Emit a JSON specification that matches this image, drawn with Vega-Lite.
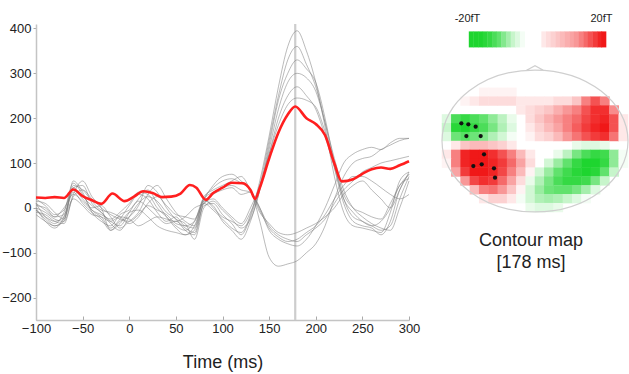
{
"$schema":"https://vega.github.io/schema/vega-lite/v6.json",
"background":"white",
"padding":{"left":1,"top":13,"right":2,"bottom":5},
"config":{"view":{"stroke":null},"font":"Liberation Sans","axis":{"grid":false}},
"bounds":"flush",
"spacing":25,
"datasets":{
"cursor":[{"t":178}],
"mean":[{"t":-100,"v":23},{"t":-90,"v":22},{"t":-80,"v":24},{"t":-70,"v":22},{"t":-60,"v":41},{"t":-50,"v":26},{"t":-40,"v":17},{"t":-30,"v":9},{"t":-18,"v":32},{"t":-5,"v":15},{"t":5,"v":25},{"t":15,"v":37},{"t":25,"v":33},{"t":35,"v":24},{"t":45,"v":25},{"t":55,"v":32},{"t":65,"v":51},{"t":72,"v":45},{"t":82,"v":18},{"t":90,"v":33},{"t":100,"v":45},{"t":110,"v":56},{"t":122,"v":55},{"t":130,"v":40},{"t":135,"v":20},{"t":140,"v":45},{"t":150,"v":110},{"t":160,"v":168},{"t":170,"v":208},{"t":178,"v":226},{"t":190,"v":200},{"t":200,"v":187},{"t":210,"v":162},{"t":220,"v":99},{"t":228,"v":59},{"t":240,"v":64},{"t":250,"v":76},{"t":260,"v":86},{"t":270,"v":90},{"t":280,"v":87},{"t":290,"v":95},{"t":300,"v":104}],
"sensors":[
{"s":1,"t":-100,"v":10},{"s":1,"t":-90,"v":-20},{"s":1,"t":-80,"v":-35},{"s":1,"t":-70,"v":-10},{"s":1,"t":-60,"v":55},{"s":1,"t":-50,"v":30},{"s":1,"t":-40,"v":-5},{"s":1,"t":-30,"v":-20},{"s":1,"t":-20,"v":-45},{"s":1,"t":-10,"v":-25},{"s":1,"t":0,"v":5},{"s":1,"t":10,"v":30},{"s":1,"t":20,"v":20},{"s":1,"t":30,"v":-10},{"s":1,"t":40,"v":-30},{"s":1,"t":50,"v":-20},{"s":1,"t":60,"v":-40},{"s":1,"t":70,"v":-30},{"s":1,"t":80,"v":10},{"s":1,"t":90,"v":-5},{"s":1,"t":100,"v":-25},{"s":1,"t":110,"v":-45},{"s":1,"t":120,"v":-55},{"s":1,"t":130,"v":-15},{"s":1,"t":140,"v":60},{"s":1,"t":150,"v":160},{"s":1,"t":160,"v":270},{"s":1,"t":170,"v":360},{"s":1,"t":180,"v":395},{"s":1,"t":190,"v":350},{"s":1,"t":200,"v":280},{"s":1,"t":210,"v":180},{"s":1,"t":220,"v":70},{"s":1,"t":230,"v":-10},{"s":1,"t":240,"v":-40},{"s":1,"t":250,"v":-45},{"s":1,"t":260,"v":-50},{"s":1,"t":270,"v":-55},{"s":1,"t":280,"v":-10},{"s":1,"t":290,"v":60},{"s":1,"t":300,"v":80},
{"s":2,"t":-100,"v":0},{"s":2,"t":-90,"v":-30},{"s":2,"t":-80,"v":-45},{"s":2,"t":-70,"v":-20},{"s":2,"t":-60,"v":45},{"s":2,"t":-50,"v":50},{"s":2,"t":-40,"v":10},{"s":2,"t":-30,"v":-10},{"s":2,"t":-20,"v":-30},{"s":2,"t":-10,"v":-40},{"s":2,"t":0,"v":-10},{"s":2,"t":10,"v":20},{"s":2,"t":20,"v":40},{"s":2,"t":30,"v":10},{"s":2,"t":40,"v":-20},{"s":2,"t":50,"v":-45},{"s":2,"t":60,"v":-60},{"s":2,"t":70,"v":-50},{"s":2,"t":80,"v":5},{"s":2,"t":90,"v":10},{"s":2,"t":100,"v":-15},{"s":2,"t":110,"v":-35},{"s":2,"t":120,"v":-60},{"s":2,"t":130,"v":-20},{"s":2,"t":140,"v":50},{"s":2,"t":150,"v":150},{"s":2,"t":160,"v":250},{"s":2,"t":170,"v":330},{"s":2,"t":180,"v":360},{"s":2,"t":190,"v":320},{"s":2,"t":200,"v":270},{"s":2,"t":210,"v":190},{"s":2,"t":220,"v":90},{"s":2,"t":230,"v":10},{"s":2,"t":240,"v":-30},{"s":2,"t":250,"v":-40},{"s":2,"t":260,"v":-45},{"s":2,"t":270,"v":-60},{"s":2,"t":280,"v":-30},{"s":2,"t":290,"v":40},{"s":2,"t":300,"v":75},
{"s":3,"t":-100,"v":-10},{"s":3,"t":-90,"v":-15},{"s":3,"t":-80,"v":-30},{"s":3,"t":-70,"v":-35},{"s":3,"t":-60,"v":30},{"s":3,"t":-50,"v":60},{"s":3,"t":-40,"v":25},{"s":3,"t":-30,"v":0},{"s":3,"t":-20,"v":-50},{"s":3,"t":-10,"v":-30},{"s":3,"t":0,"v":-20},{"s":3,"t":10,"v":5},{"s":3,"t":20,"v":50},{"s":3,"t":30,"v":35},{"s":3,"t":40,"v":0},{"s":3,"t":50,"v":-25},{"s":3,"t":60,"v":-35},{"s":3,"t":70,"v":-70},{"s":3,"t":80,"v":0},{"s":3,"t":90,"v":15},{"s":3,"t":100,"v":-5},{"s":3,"t":110,"v":-25},{"s":3,"t":120,"v":-45},{"s":3,"t":130,"v":-25},{"s":3,"t":140,"v":40},{"s":3,"t":150,"v":140},{"s":3,"t":160,"v":240},{"s":3,"t":170,"v":300},{"s":3,"t":180,"v":330},{"s":3,"t":190,"v":310},{"s":3,"t":200,"v":280},{"s":3,"t":210,"v":200},{"s":3,"t":220,"v":100},{"s":3,"t":230,"v":20},{"s":3,"t":240,"v":-20},{"s":3,"t":250,"v":-30},{"s":3,"t":260,"v":-40},{"s":3,"t":270,"v":-50},{"s":3,"t":280,"v":-40},{"s":3,"t":290,"v":20},{"s":3,"t":300,"v":70},
{"s":4,"t":-100,"v":5},{"s":4,"t":-90,"v":0},{"s":4,"t":-80,"v":-20},{"s":4,"t":-70,"v":-15},{"s":4,"t":-60,"v":40},{"s":4,"t":-50,"v":20},{"s":4,"t":-40,"v":0},{"s":4,"t":-30,"v":5},{"s":4,"t":-20,"v":-20},{"s":4,"t":-10,"v":-45},{"s":4,"t":0,"v":-30},{"s":4,"t":10,"v":-10},{"s":4,"t":20,"v":30},{"s":4,"t":30,"v":50},{"s":4,"t":40,"v":20},{"s":4,"t":50,"v":-10},{"s":4,"t":60,"v":-30},{"s":4,"t":70,"v":-40},{"s":4,"t":80,"v":15},{"s":4,"t":90,"v":5},{"s":4,"t":100,"v":-30},{"s":4,"t":110,"v":-50},{"s":4,"t":120,"v":-70},{"s":4,"t":130,"v":-30},{"s":4,"t":140,"v":40},{"s":4,"t":150,"v":130},{"s":4,"t":160,"v":220},{"s":4,"t":170,"v":280},{"s":4,"t":180,"v":300},{"s":4,"t":190,"v":290},{"s":4,"t":200,"v":260},{"s":4,"t":210,"v":190},{"s":4,"t":220,"v":110},{"s":4,"t":230,"v":40},{"s":4,"t":240,"v":0},{"s":4,"t":250,"v":-20},{"s":4,"t":260,"v":-35},{"s":4,"t":270,"v":-45},{"s":4,"t":280,"v":-50},{"s":4,"t":290,"v":0},{"s":4,"t":300,"v":60},
{"s":5,"t":-100,"v":15},{"s":5,"t":-90,"v":10},{"s":5,"t":-80,"v":-10},{"s":5,"t":-70,"v":-25},{"s":5,"t":-60,"v":50},{"s":5,"t":-50,"v":40},{"s":5,"t":-40,"v":15},{"s":5,"t":-30,"v":-5},{"s":5,"t":-20,"v":-10},{"s":5,"t":-10,"v":-20},{"s":5,"t":0,"v":-35},{"s":5,"t":10,"v":-20},{"s":5,"t":20,"v":10},{"s":5,"t":30,"v":25},{"s":5,"t":40,"v":5},{"s":5,"t":50,"v":-15},{"s":5,"t":60,"v":-20},{"s":5,"t":70,"v":-25},{"s":5,"t":80,"v":20},{"s":5,"t":90,"v":0},{"s":5,"t":100,"v":-20},{"s":5,"t":110,"v":-30},{"s":5,"t":120,"v":-40},{"s":5,"t":130,"v":-10},{"s":5,"t":140,"v":45},{"s":5,"t":150,"v":120},{"s":5,"t":160,"v":200},{"s":5,"t":170,"v":250},{"s":5,"t":180,"v":270},{"s":5,"t":190,"v":250},{"s":5,"t":200,"v":220},{"s":5,"t":210,"v":160},{"s":5,"t":220,"v":90},{"s":5,"t":230,"v":20},{"s":5,"t":240,"v":-10},{"s":5,"t":250,"v":-30},{"s":5,"t":260,"v":-40},{"s":5,"t":270,"v":-30},{"s":5,"t":280,"v":0},{"s":5,"t":290,"v":50},{"s":5,"t":300,"v":65},
{"s":6,"t":-100,"v":-5},{"s":6,"t":-90,"v":-25},{"s":6,"t":-80,"v":-40},{"s":6,"t":-70,"v":-30},{"s":6,"t":-60,"v":60},{"s":6,"t":-50,"v":35},{"s":6,"t":-40,"v":-10},{"s":6,"t":-30,"v":-30},{"s":6,"t":-20,"v":-40},{"s":6,"t":-10,"v":-15},{"s":6,"t":0,"v":-5},{"s":6,"t":10,"v":15},{"s":6,"t":20,"v":0},{"s":6,"t":30,"v":-20},{"s":6,"t":40,"v":-35},{"s":6,"t":50,"v":-30},{"s":6,"t":60,"v":-45},{"s":6,"t":70,"v":-55},{"s":6,"t":80,"v":10},{"s":6,"t":90,"v":20},{"s":6,"t":100,"v":0},{"s":6,"t":110,"v":-20},{"s":6,"t":120,"v":-35},{"s":6,"t":130,"v":0},{"s":6,"t":140,"v":50},{"s":6,"t":150,"v":120},{"s":6,"t":160,"v":185},{"s":6,"t":170,"v":230},{"s":6,"t":180,"v":245},{"s":6,"t":190,"v":240},{"s":6,"t":200,"v":225},{"s":6,"t":210,"v":170},{"s":6,"t":220,"v":100},{"s":6,"t":230,"v":30},{"s":6,"t":240,"v":0},{"s":6,"t":250,"v":-10},{"s":6,"t":260,"v":-20},{"s":6,"t":270,"v":-25},{"s":6,"t":280,"v":10},{"s":6,"t":290,"v":50},{"s":6,"t":300,"v":75},
{"s":7,"t":-100,"v":-5},{"s":7,"t":-90,"v":-20},{"s":7,"t":-80,"v":-30},{"s":7,"t":-70,"v":-20},{"s":7,"t":-60,"v":35},{"s":7,"t":-50,"v":10},{"s":7,"t":-40,"v":-10},{"s":7,"t":-30,"v":-25},{"s":7,"t":-20,"v":-50},{"s":7,"t":-10,"v":-35},{"s":7,"t":0,"v":-10},{"s":7,"t":10,"v":-5},{"s":7,"t":20,"v":-20},{"s":7,"t":30,"v":-40},{"s":7,"t":40,"v":-50},{"s":7,"t":50,"v":-55},{"s":7,"t":60,"v":-60},{"s":7,"t":70,"v":-40},{"s":7,"t":80,"v":20},{"s":7,"t":90,"v":45},{"s":7,"t":100,"v":60},{"s":7,"t":110,"v":65},{"s":7,"t":120,"v":55},{"s":7,"t":130,"v":40},{"s":7,"t":140,"v":-30},{"s":7,"t":150,"v":-110},{"s":7,"t":160,"v":-130},{"s":7,"t":170,"v":-125},{"s":7,"t":180,"v":-118},{"s":7,"t":190,"v":-100},{"s":7,"t":200,"v":-80},{"s":7,"t":210,"v":-40},{"s":7,"t":220,"v":20},{"s":7,"t":230,"v":70},{"s":7,"t":240,"v":100},{"s":7,"t":250,"v":110},{"s":7,"t":260,"v":115},{"s":7,"t":270,"v":130},{"s":7,"t":280,"v":140},{"s":7,"t":290,"v":150},{"s":7,"t":300,"v":155},
{"s":8,"t":-100,"v":20},{"s":8,"t":-90,"v":5},{"s":8,"t":-80,"v":-15},{"s":8,"t":-70,"v":-5},{"s":8,"t":-60,"v":45},{"s":8,"t":-50,"v":25},{"s":8,"t":-40,"v":5},{"s":8,"t":-30,"v":-10},{"s":8,"t":-20,"v":-35},{"s":8,"t":-10,"v":-50},{"s":8,"t":0,"v":-20},{"s":8,"t":10,"v":10},{"s":8,"t":20,"v":25},{"s":8,"t":30,"v":15},{"s":8,"t":40,"v":-10},{"s":8,"t":50,"v":-25},{"s":8,"t":60,"v":-50},{"s":8,"t":70,"v":-60},{"s":8,"t":80,"v":15},{"s":8,"t":90,"v":50},{"s":8,"t":100,"v":70},{"s":8,"t":110,"v":75},{"s":8,"t":120,"v":60},{"s":8,"t":130,"v":40},{"s":8,"t":140,"v":0},{"s":8,"t":150,"v":-50},{"s":8,"t":160,"v":-70},{"s":8,"t":170,"v":-80},{"s":8,"t":180,"v":-85},{"s":8,"t":190,"v":-70},{"s":8,"t":200,"v":-40},{"s":8,"t":210,"v":0},{"s":8,"t":220,"v":50},{"s":8,"t":230,"v":100},{"s":8,"t":240,"v":120},{"s":8,"t":250,"v":130},{"s":8,"t":260,"v":135},{"s":8,"t":270,"v":130},{"s":8,"t":280,"v":145},{"s":8,"t":290,"v":155},{"s":8,"t":300,"v":155},
{"s":9,"t":-100,"v":0},{"s":9,"t":-90,"v":-10},{"s":9,"t":-80,"v":-25},{"s":9,"t":-70,"v":-30},{"s":9,"t":-60,"v":25},{"s":9,"t":-50,"v":40},{"s":9,"t":-40,"v":20},{"s":9,"t":-30,"v":0},{"s":9,"t":-20,"v":-15},{"s":9,"t":-10,"v":-25},{"s":9,"t":0,"v":-30},{"s":9,"t":10,"v":-15},{"s":9,"t":20,"v":5},{"s":9,"t":30,"v":-5},{"s":9,"t":40,"v":-15},{"s":9,"t":50,"v":-35},{"s":9,"t":60,"v":-40},{"s":9,"t":70,"v":-45},{"s":9,"t":80,"v":25},{"s":9,"t":90,"v":40},{"s":9,"t":100,"v":50},{"s":9,"t":110,"v":60},{"s":9,"t":120,"v":70},{"s":9,"t":130,"v":40},{"s":9,"t":140,"v":0},{"s":9,"t":150,"v":-40},{"s":9,"t":160,"v":-60},{"s":9,"t":170,"v":-70},{"s":9,"t":180,"v":-75},{"s":9,"t":190,"v":-60},{"s":9,"t":200,"v":-45},{"s":9,"t":210,"v":-25},{"s":9,"t":220,"v":10},{"s":9,"t":230,"v":40},{"s":9,"t":240,"v":60},{"s":9,"t":250,"v":80},{"s":9,"t":260,"v":90},{"s":9,"t":270,"v":100},{"s":9,"t":280,"v":105},{"s":9,"t":290,"v":110},{"s":9,"t":300,"v":115},
{"s":10,"t":-100,"v":10},{"s":10,"t":-90,"v":-5},{"s":10,"t":-80,"v":-20},{"s":10,"t":-70,"v":0},{"s":10,"t":-60,"v":30},{"s":10,"t":-50,"v":15},{"s":10,"t":-40,"v":-5},{"s":10,"t":-30,"v":-15},{"s":10,"t":-20,"v":-25},{"s":10,"t":-10,"v":-10},{"s":10,"t":0,"v":10},{"s":10,"t":10,"v":35},{"s":10,"t":20,"v":30},{"s":10,"t":30,"v":0},{"s":10,"t":40,"v":-20},{"s":10,"t":50,"v":-40},{"s":10,"t":60,"v":-50},{"s":10,"t":70,"v":-30},{"s":10,"t":80,"v":20},{"s":10,"t":90,"v":35},{"s":10,"t":100,"v":45},{"s":10,"t":110,"v":50},{"s":10,"t":120,"v":40},{"s":10,"t":130,"v":35},{"s":10,"t":140,"v":-10},{"s":10,"t":150,"v":-35},{"s":10,"t":160,"v":-55},{"s":10,"t":170,"v":-60},{"s":10,"t":180,"v":-55},{"s":10,"t":190,"v":-45},{"s":10,"t":200,"v":-35},{"s":10,"t":210,"v":-20},{"s":10,"t":220,"v":0},{"s":10,"t":230,"v":30},{"s":10,"t":240,"v":50},{"s":10,"t":250,"v":60},{"s":10,"t":260,"v":40},{"s":10,"t":270,"v":20},{"s":10,"t":280,"v":0},{"s":10,"t":290,"v":40},{"s":10,"t":300,"v":80},
{"s":11,"t":-100,"v":-15},{"s":11,"t":-90,"v":-30},{"s":11,"t":-80,"v":-40},{"s":11,"t":-70,"v":-25},{"s":11,"t":-60,"v":20},{"s":11,"t":-50,"v":5},{"s":11,"t":-40,"v":-15},{"s":11,"t":-30,"v":-20},{"s":11,"t":-20,"v":-30},{"s":11,"t":-10,"v":-20},{"s":11,"t":0,"v":-25},{"s":11,"t":10,"v":-40},{"s":11,"t":20,"v":-30},{"s":11,"t":30,"v":-20},{"s":11,"t":40,"v":-25},{"s":11,"t":50,"v":-30},{"s":11,"t":60,"v":-20},{"s":11,"t":70,"v":0},{"s":11,"t":80,"v":10},{"s":11,"t":90,"v":30},{"s":11,"t":100,"v":40},{"s":11,"t":110,"v":45},{"s":11,"t":120,"v":30},{"s":11,"t":130,"v":35},{"s":11,"t":140,"v":-5},{"s":11,"t":150,"v":-45},{"s":11,"t":160,"v":-65},{"s":11,"t":170,"v":-75},{"s":11,"t":180,"v":-70},{"s":11,"t":190,"v":-55},{"s":11,"t":200,"v":-40},{"s":11,"t":210,"v":-15},{"s":11,"t":220,"v":20},{"s":11,"t":230,"v":50},{"s":11,"t":240,"v":70},{"s":11,"t":250,"v":70},{"s":11,"t":260,"v":60},{"s":11,"t":270,"v":45},{"s":11,"t":280,"v":30},{"s":11,"t":290,"v":20},{"s":11,"t":300,"v":30}
],
"field":[
{"X":-0.55,"Y":0.6875,"v":1},{"X":-0.45,"Y":0.6875,"v":1},{"X":-0.35,"Y":0.6875,"v":1},{"X":-0.25,"Y":0.6875,"v":1},
{"X":-0.75,"Y":0.5625,"v":1},{"X":-0.65,"Y":0.5625,"v":2},{"X":-0.55,"Y":0.5625,"v":3},{"X":-0.45,"Y":0.5625,"v":3},{"X":-0.35,"Y":0.5625,"v":3},{"X":-0.25,"Y":0.5625,"v":3},{"X":-0.15,"Y":0.5625,"v":2},{"X":-0.05,"Y":0.5625,"v":2},{"X":0.05,"Y":0.5625,"v":2},{"X":0.15,"Y":0.5625,"v":2},{"X":0.25,"Y":0.5625,"v":3},{"X":0.35,"Y":0.5625,"v":3},{"X":0.45,"Y":0.5625,"v":5},{"X":0.55,"Y":0.5625,"v":11},{"X":0.65,"Y":0.5625,"v":15},{"X":0.75,"Y":0.5625,"v":11},
{"X":-0.15,"Y":0.4375,"v":2},{"X":-0.05,"Y":0.4375,"v":3},{"X":0.05,"Y":0.4375,"v":4},{"X":0.15,"Y":0.4375,"v":5},{"X":0.25,"Y":0.4375,"v":7},{"X":0.35,"Y":0.4375,"v":9},{"X":0.45,"Y":0.4375,"v":11},{"X":0.55,"Y":0.4375,"v":15},{"X":0.65,"Y":0.4375,"v":18},{"X":0.75,"Y":0.4375,"v":18},{"X":0.85,"Y":0.4375,"v":10},
{"X":-0.95,"Y":0.3125,"v":-3},{"X":-0.85,"Y":0.3125,"v":-16},{"X":-0.75,"Y":0.3125,"v":-18},{"X":-0.65,"Y":0.3125,"v":-16},{"X":-0.55,"Y":0.3125,"v":-14},{"X":-0.45,"Y":0.3125,"v":-10},{"X":-0.35,"Y":0.3125,"v":-6},{"X":-0.25,"Y":0.3125,"v":-2},{"X":-0.05,"Y":0.3125,"v":3},{"X":0.05,"Y":0.3125,"v":5},{"X":0.15,"Y":0.3125,"v":7},{"X":0.25,"Y":0.3125,"v":9},{"X":0.35,"Y":0.3125,"v":11},{"X":0.45,"Y":0.3125,"v":13},{"X":0.55,"Y":0.3125,"v":16},{"X":0.65,"Y":0.3125,"v":18},{"X":0.75,"Y":0.3125,"v":19},{"X":0.85,"Y":0.3125,"v":15},{"X":0.95,"Y":0.3125,"v":2},
{"X":-0.95,"Y":0.1875,"v":-5},{"X":-0.85,"Y":0.1875,"v":-19},{"X":-0.75,"Y":0.1875,"v":-20},{"X":-0.65,"Y":0.1875,"v":-18},{"X":-0.55,"Y":0.1875,"v":-16},{"X":-0.45,"Y":0.1875,"v":-12},{"X":-0.35,"Y":0.1875,"v":-7},{"X":-0.25,"Y":0.1875,"v":-3},{"X":-0.05,"Y":0.1875,"v":2},{"X":0.05,"Y":0.1875,"v":4},{"X":0.15,"Y":0.1875,"v":6},{"X":0.25,"Y":0.1875,"v":8},{"X":0.35,"Y":0.1875,"v":11},{"X":0.45,"Y":0.1875,"v":14},{"X":0.55,"Y":0.1875,"v":17},{"X":0.65,"Y":0.1875,"v":19},{"X":0.75,"Y":0.1875,"v":20},{"X":0.85,"Y":0.1875,"v":15},{"X":0.95,"Y":0.1875,"v":2},
{"X":-0.95,"Y":0.0625,"v":-3},{"X":-0.85,"Y":0.0625,"v":-13},{"X":-0.75,"Y":0.0625,"v":-15},{"X":-0.65,"Y":0.0625,"v":-13},{"X":-0.55,"Y":0.0625,"v":-11},{"X":-0.45,"Y":0.0625,"v":-7},{"X":-0.35,"Y":0.0625,"v":-4},{"X":-0.25,"Y":0.0625,"v":-1},{"X":-0.05,"Y":0.0625,"v":1},{"X":0.05,"Y":0.0625,"v":3},{"X":0.15,"Y":0.0625,"v":4},{"X":0.25,"Y":0.0625,"v":6},{"X":0.35,"Y":0.0625,"v":9},{"X":0.45,"Y":0.0625,"v":12},{"X":0.55,"Y":0.0625,"v":15},{"X":0.65,"Y":0.0625,"v":17},{"X":0.75,"Y":0.0625,"v":18},{"X":0.85,"Y":0.0625,"v":12},{"X":0.95,"Y":0.0625,"v":2},
{"X":-0.85,"Y":-0.0625,"v":2},{"X":-0.75,"Y":-0.0625,"v":5},{"X":-0.65,"Y":-0.0625,"v":6},{"X":-0.55,"Y":-0.0625,"v":6},{"X":-0.45,"Y":-0.0625,"v":5},{"X":-0.35,"Y":-0.0625,"v":4},{"X":-0.25,"Y":-0.0625,"v":2},{"X":0.45,"Y":-0.0625,"v":-2},{"X":0.55,"Y":-0.0625,"v":-3},{"X":0.65,"Y":-0.0625,"v":-3},{"X":0.75,"Y":-0.0625,"v":-2},
{"X":-0.95,"Y":-0.1875,"v":2},{"X":-0.85,"Y":-0.1875,"v":11},{"X":-0.75,"Y":-0.1875,"v":19},{"X":-0.65,"Y":-0.1875,"v":20},{"X":-0.55,"Y":-0.1875,"v":20},{"X":-0.45,"Y":-0.1875,"v":18},{"X":-0.35,"Y":-0.1875,"v":15},{"X":-0.25,"Y":-0.1875,"v":11},{"X":-0.15,"Y":-0.1875,"v":6},{"X":-0.05,"Y":-0.1875,"v":2},{"X":0.25,"Y":-0.1875,"v":-2},{"X":0.35,"Y":-0.1875,"v":-6},{"X":0.45,"Y":-0.1875,"v":-12},{"X":0.55,"Y":-0.1875,"v":-16},{"X":0.65,"Y":-0.1875,"v":-18},{"X":0.75,"Y":-0.1875,"v":-17},{"X":0.85,"Y":-0.1875,"v":-10},{"X":0.95,"Y":-0.1875,"v":-1},
{"X":-0.95,"Y":-0.3125,"v":1},{"X":-0.85,"Y":-0.3125,"v":11},{"X":-0.75,"Y":-0.3125,"v":19},{"X":-0.65,"Y":-0.3125,"v":20},{"X":-0.55,"Y":-0.3125,"v":20},{"X":-0.45,"Y":-0.3125,"v":19},{"X":-0.35,"Y":-0.3125,"v":17},{"X":-0.25,"Y":-0.3125,"v":13},{"X":-0.15,"Y":-0.3125,"v":8},{"X":-0.05,"Y":-0.3125,"v":3},{"X":0.15,"Y":-0.3125,"v":-4},{"X":0.25,"Y":-0.3125,"v":-9},{"X":0.35,"Y":-0.3125,"v":-14},{"X":0.45,"Y":-0.3125,"v":-18},{"X":0.55,"Y":-0.3125,"v":-20},{"X":0.65,"Y":-0.3125,"v":-20},{"X":0.75,"Y":-0.3125,"v":-18},{"X":0.85,"Y":-0.3125,"v":-10},{"X":0.95,"Y":-0.3125,"v":-1},
{"X":-0.85,"Y":-0.4375,"v":8},{"X":-0.75,"Y":-0.4375,"v":17},{"X":-0.65,"Y":-0.4375,"v":20},{"X":-0.55,"Y":-0.4375,"v":20},{"X":-0.45,"Y":-0.4375,"v":19},{"X":-0.35,"Y":-0.4375,"v":16},{"X":-0.25,"Y":-0.4375,"v":11},{"X":-0.15,"Y":-0.4375,"v":6},{"X":-0.05,"Y":-0.4375,"v":1},{"X":0.05,"Y":-0.4375,"v":-4},{"X":0.15,"Y":-0.4375,"v":-9},{"X":0.25,"Y":-0.4375,"v":-14},{"X":0.35,"Y":-0.4375,"v":-17},{"X":0.45,"Y":-0.4375,"v":-19},{"X":0.55,"Y":-0.4375,"v":-20},{"X":0.65,"Y":-0.4375,"v":-19},{"X":0.75,"Y":-0.4375,"v":-14},{"X":0.85,"Y":-0.4375,"v":-5},
{"X":-0.75,"Y":-0.5625,"v":9},{"X":-0.65,"Y":-0.5625,"v":16},{"X":-0.55,"Y":-0.5625,"v":18},{"X":-0.45,"Y":-0.5625,"v":17},{"X":-0.35,"Y":-0.5625,"v":13},{"X":-0.25,"Y":-0.5625,"v":8},{"X":-0.15,"Y":-0.5625,"v":3},{"X":-0.05,"Y":-0.5625,"v":-2},{"X":0.05,"Y":-0.5625,"v":-7},{"X":0.15,"Y":-0.5625,"v":-12},{"X":0.25,"Y":-0.5625,"v":-16},{"X":0.35,"Y":-0.5625,"v":-18},{"X":0.45,"Y":-0.5625,"v":-18},{"X":0.55,"Y":-0.5625,"v":-17},{"X":0.65,"Y":-0.5625,"v":-12},{"X":0.75,"Y":-0.5625,"v":-5},
{"X":-0.65,"Y":-0.6875,"v":6},{"X":-0.55,"Y":-0.6875,"v":11},{"X":-0.45,"Y":-0.6875,"v":12},{"X":-0.35,"Y":-0.6875,"v":9},{"X":-0.25,"Y":-0.6875,"v":5},{"X":-0.15,"Y":-0.6875,"v":1},{"X":-0.05,"Y":-0.6875,"v":-4},{"X":0.05,"Y":-0.6875,"v":-9},{"X":0.15,"Y":-0.6875,"v":-13},{"X":0.25,"Y":-0.6875,"v":-14},{"X":0.35,"Y":-0.6875,"v":-14},{"X":0.45,"Y":-0.6875,"v":-12},{"X":0.55,"Y":-0.6875,"v":-8},{"X":0.65,"Y":-0.6875,"v":-3},
{"X":-0.55,"Y":-0.8125,"v":2},{"X":-0.45,"Y":-0.8125,"v":4},{"X":-0.35,"Y":-0.8125,"v":4},{"X":-0.25,"Y":-0.8125,"v":2},{"X":-0.15,"Y":-0.8125,"v":-1},{"X":-0.05,"Y":-0.8125,"v":-4},{"X":0.05,"Y":-0.8125,"v":-7},{"X":0.15,"Y":-0.8125,"v":-8},{"X":0.25,"Y":-0.8125,"v":-7},{"X":0.35,"Y":-0.8125,"v":-5},{"X":0.45,"Y":-0.8125,"v":-3},{"X":0.55,"Y":-0.8125,"v":-1},
{"X":-0.05,"Y":-0.9375,"v":-2},{"X":0.05,"Y":-0.9375,"v":-3},{"X":0.15,"Y":-0.9375,"v":-3},{"X":0.25,"Y":-0.9375,"v":-2}
],
"scalebar":[
{"X":-0.685,"Y":1.431,"v":-20},{"X":-0.635,"Y":1.431,"v":-20},{"X":-0.585,"Y":1.431,"v":-20},{"X":-0.535,"Y":1.431,"v":-19},{"X":-0.485,"Y":1.431,"v":-18},{"X":-0.435,"Y":1.431,"v":-16},{"X":-0.385,"Y":1.431,"v":-14},{"X":-0.335,"Y":1.431,"v":-11},{"X":-0.285,"Y":1.431,"v":-8},{"X":-0.235,"Y":1.431,"v":-5},{"X":-0.185,"Y":1.431,"v":-3},{"X":-0.135,"Y":1.431,"v":-1},
{"X":0.095,"Y":1.431,"v":2},{"X":0.145,"Y":1.431,"v":3},{"X":0.195,"Y":1.431,"v":4},{"X":0.245,"Y":1.431,"v":5},{"X":0.295,"Y":1.431,"v":6},{"X":0.345,"Y":1.431,"v":7},{"X":0.395,"Y":1.431,"v":8},{"X":0.445,"Y":1.431,"v":9},{"X":0.495,"Y":1.431,"v":11},{"X":0.545,"Y":1.431,"v":13},{"X":0.595,"Y":1.431,"v":15},{"X":0.645,"Y":1.431,"v":17},{"X":0.695,"Y":1.431,"v":19},{"X":0.74,"Y":1.431,"v":20}
],
"scalelabels":[{"X":-0.726,"Y":1.718,"label":"-20fT"},{"X":0.715,"Y":1.718,"label":"20fT"}],
"head":[{"X":0,"Y":0}],
"dots":[{"X":-0.792,"Y":0.249},{"X":-0.717,"Y":0.235},{"X":-0.638,"Y":0.202},{"X":-0.738,"Y":0.07},{"X":-0.584,"Y":0.07},{"X":-0.548,"Y":-0.188},{"X":-0.573,"Y":-0.329},{"X":-0.663,"Y":-0.352},{"X":-0.441,"Y":-0.385},{"X":-0.43,"Y":-0.516}]
},
"hconcat":[
{
"width":373,"height":296,
"encoding":{
"x":{"field":"t","type":"quantitative","scale":{"domain":[-100,300],"nice":false,"zero":false},"axis":{"title":"Time (ms)","values":[-100,-50,0,50,100,150,200,250,300],"labelFlush":false,"domainColor":"#c4c4c4","domainWidth":1.5,"tickColor":"#aaaaaa","tickSize":-4,"labelPadding":6,"labelFontSize":13,"labelColor":"#222222","titleFontSize":18,"titleFontWeight":"normal","titleColor":"#222222","titlePadding":18}}
},
"layer":[
{"data":{"name":"cursor"},"mark":{"type":"rule","color":"#cdcdcd","strokeWidth":2.2},"encoding":{}},
{"data":{"name":"sensors"},"mark":{"type":"line","interpolate":"monotone","color":"#7a7a7a","strokeWidth":0.8,"opacity":0.65},
 "encoding":{"y":{"field":"v","type":"quantitative","scale":{"domain":[-250,410],"nice":false,"zero":false},"axis":{"title":null,"values":[-200,-100,0,100,200,300,400],"domainColor":"#c4c4c4","domainWidth":1.5,"tickColor":"#aaaaaa","tickSize":3,"labelPadding":2,"labelFontSize":13,"labelColor":"#222222"}},"detail":{"field":"s","type":"nominal"}}},
{"data":{"name":"mean"},"mark":{"type":"line","interpolate":"monotone","color":"#ff1f1f","strokeWidth":2.6},
 "encoding":{"y":{"field":"v","type":"quantitative"}}}
]
},
{
"width":194,"height":191,
"title":{"text":["Contour map","[178 ms]"],"orient":"bottom","anchor":"middle","fontSize":18,"fontWeight":"normal","color":"#222222","lineHeight":22,"offset":17},
"encoding":{
"x":{"field":"X","type":"quantitative","scale":{"domain":[-1.086,1.0],"nice":false,"zero":false},"axis":null},
"y":{"field":"Y","type":"quantitative","scale":{"domain":[-1.042,1.648],"nice":false,"zero":false},"axis":null}
},
"layer":[
{"data":{"name":"field"},"mark":{"type":"rect","width":9.8,"height":9.3},"encoding":{"color":{"field":"v","type":"quantitative","scale":{"domain":[-20,0,20],"range":["#1ed52f","#ffffff","#f01818"],"interpolate":"rgb"},"legend":null}}},
{"data":{"name":"scalebar"},"mark":{"type":"rect","width":5,"height":16},"encoding":{"color":{"field":"v","type":"quantitative","legend":null}}},
{"data":{"name":"head"},"mark":{"type":"point","shape":"M-1,0A1,0.763,0,1,1,1,0A1,0.763,0,1,1,-1,0ZM-0.1,-0.755L0,-0.81L0.1,-0.755","size":34596,"filled":false,"color":"#cfcfcf","strokeWidth":1.2,"opacity":1}},
{"data":{"name":"dots"},"mark":{"type":"circle","size":18,"color":"#111111","opacity":1}},
{"data":{"name":"scalelabels"},"mark":{"type":"text","fontSize":11,"color":"#222222"},"encoding":{"text":{"field":"label","type":"nominal"}}}
]
}
]
}
